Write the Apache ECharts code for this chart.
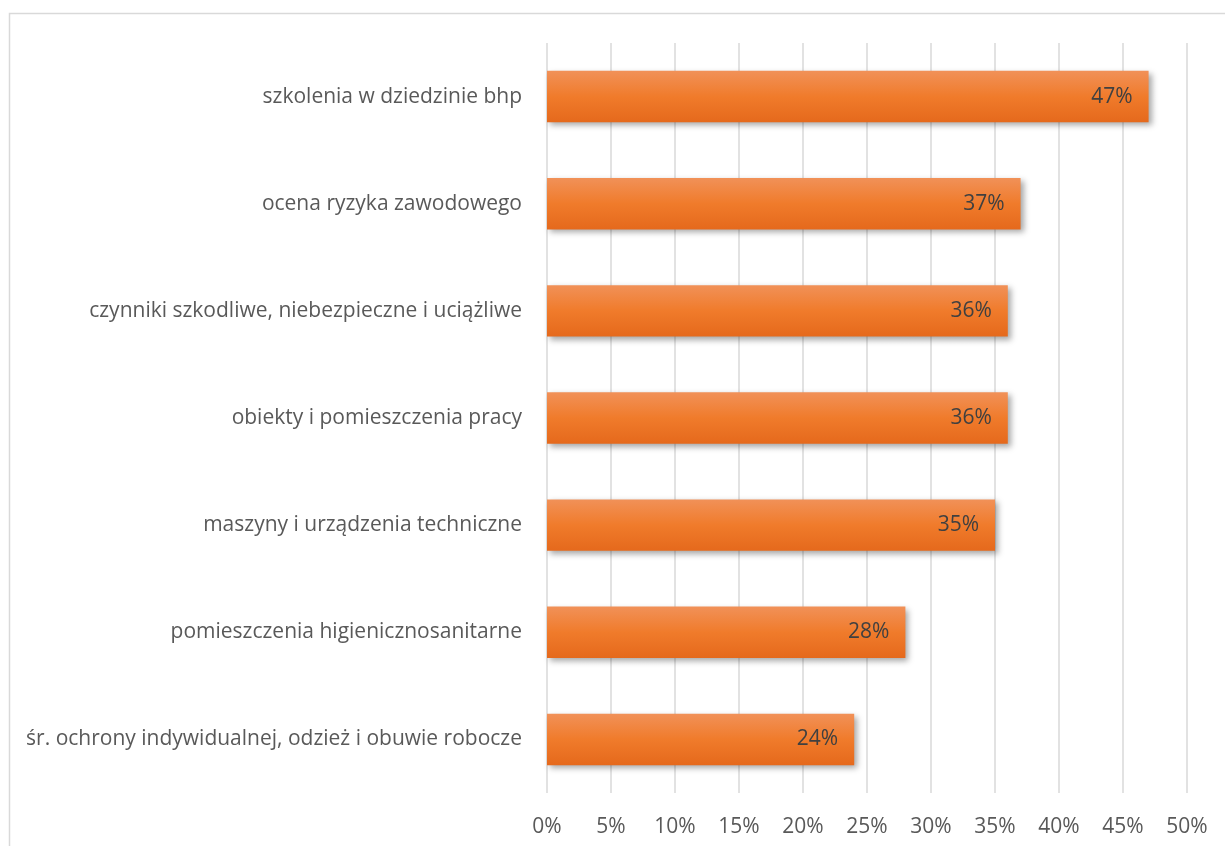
<!DOCTYPE html>
<html><head><meta charset="utf-8">
<script src="https://cdn.jsdelivr.net/npm/echarts@6/dist/echarts.min.js"></script>
<style>html,body{margin:0;padding:0;background:#fff}#c{width:1225px;height:846px}</style>
</head><body><div id="c"></div>
<script>
const categories = [
  "szkolenia w dziedzinie bhp",
  "ocena ryzyka zawodowego",
  "czynniki szkodliwe, niebezpieczne i uciążliwe",
  "obiekty i pomieszczenia pracy",
  "maszyny i urządzenia techniczne",
  "pomieszczenia higienicznosanitarne",
  "śr. ochrony indywidualnej, odzież i obuwie robocze"
];
const values = [47, 37, 36, 36, 35, 28, 24];
const xTicks = {min: 0, max: 50, interval: 5};

const chart = echarts.init(document.getElementById('c'), null, {renderer: 'canvas'});
const font = '"Open Sans", "Noto Sans", sans-serif';
chart.setOption({
  animation: false,
  backgroundColor: '#fff',
  graphic: [{type: 'rect', shape: {x: 9.5, y: 13.5, width: 1230, height: 850},
    style: {fill: 'none', stroke: '#d9d9d9', lineWidth: 1.5}, silent: true, z: -1}],
  grid: {left: 547, right: 38, top: 43, bottom: 53, containLabel: false},
  xAxis: {
    type: 'value', min: xTicks.min, max: xTicks.max, interval: xTicks.interval,
    axisLine: {show: false}, axisTick: {show: false},
    splitLine: {show: true, lineStyle: {color: '#d9d9d9', width: 1.5}},
    axisLabel: {formatter: '{value}%', color: '#595959', fontSize: 21, fontFamily: font, margin: 24}
  },
  yAxis: {
    type: 'category', data: categories, inverse: true,
    axisLine: {show: false}, axisTick: {show: false},
    axisLabel: {color: '#595959', fontSize: 21, fontFamily: font, margin: 25}
  },
  series: [{
    type: 'bar', data: values, barWidth: '48%',
    itemStyle: {
      color: new echarts.graphic.LinearGradient(0, 0, 0, 1, [
        {offset: 0, color: '#f19158'},
        {offset: 0.5, color: '#f07b2b'},
        {offset: 1, color: '#e5691c'}
      ]),
      shadowColor: 'rgba(0,0,0,0.35)', shadowBlur: 6, shadowOffsetX: 3, shadowOffsetY: 3
    },
    label: {show: true, position: 'insideRight', distance: 16, formatter: '{c}%',
      color: '#404040', fontSize: 21, fontFamily: font}
  }]
});
</script></body></html>
